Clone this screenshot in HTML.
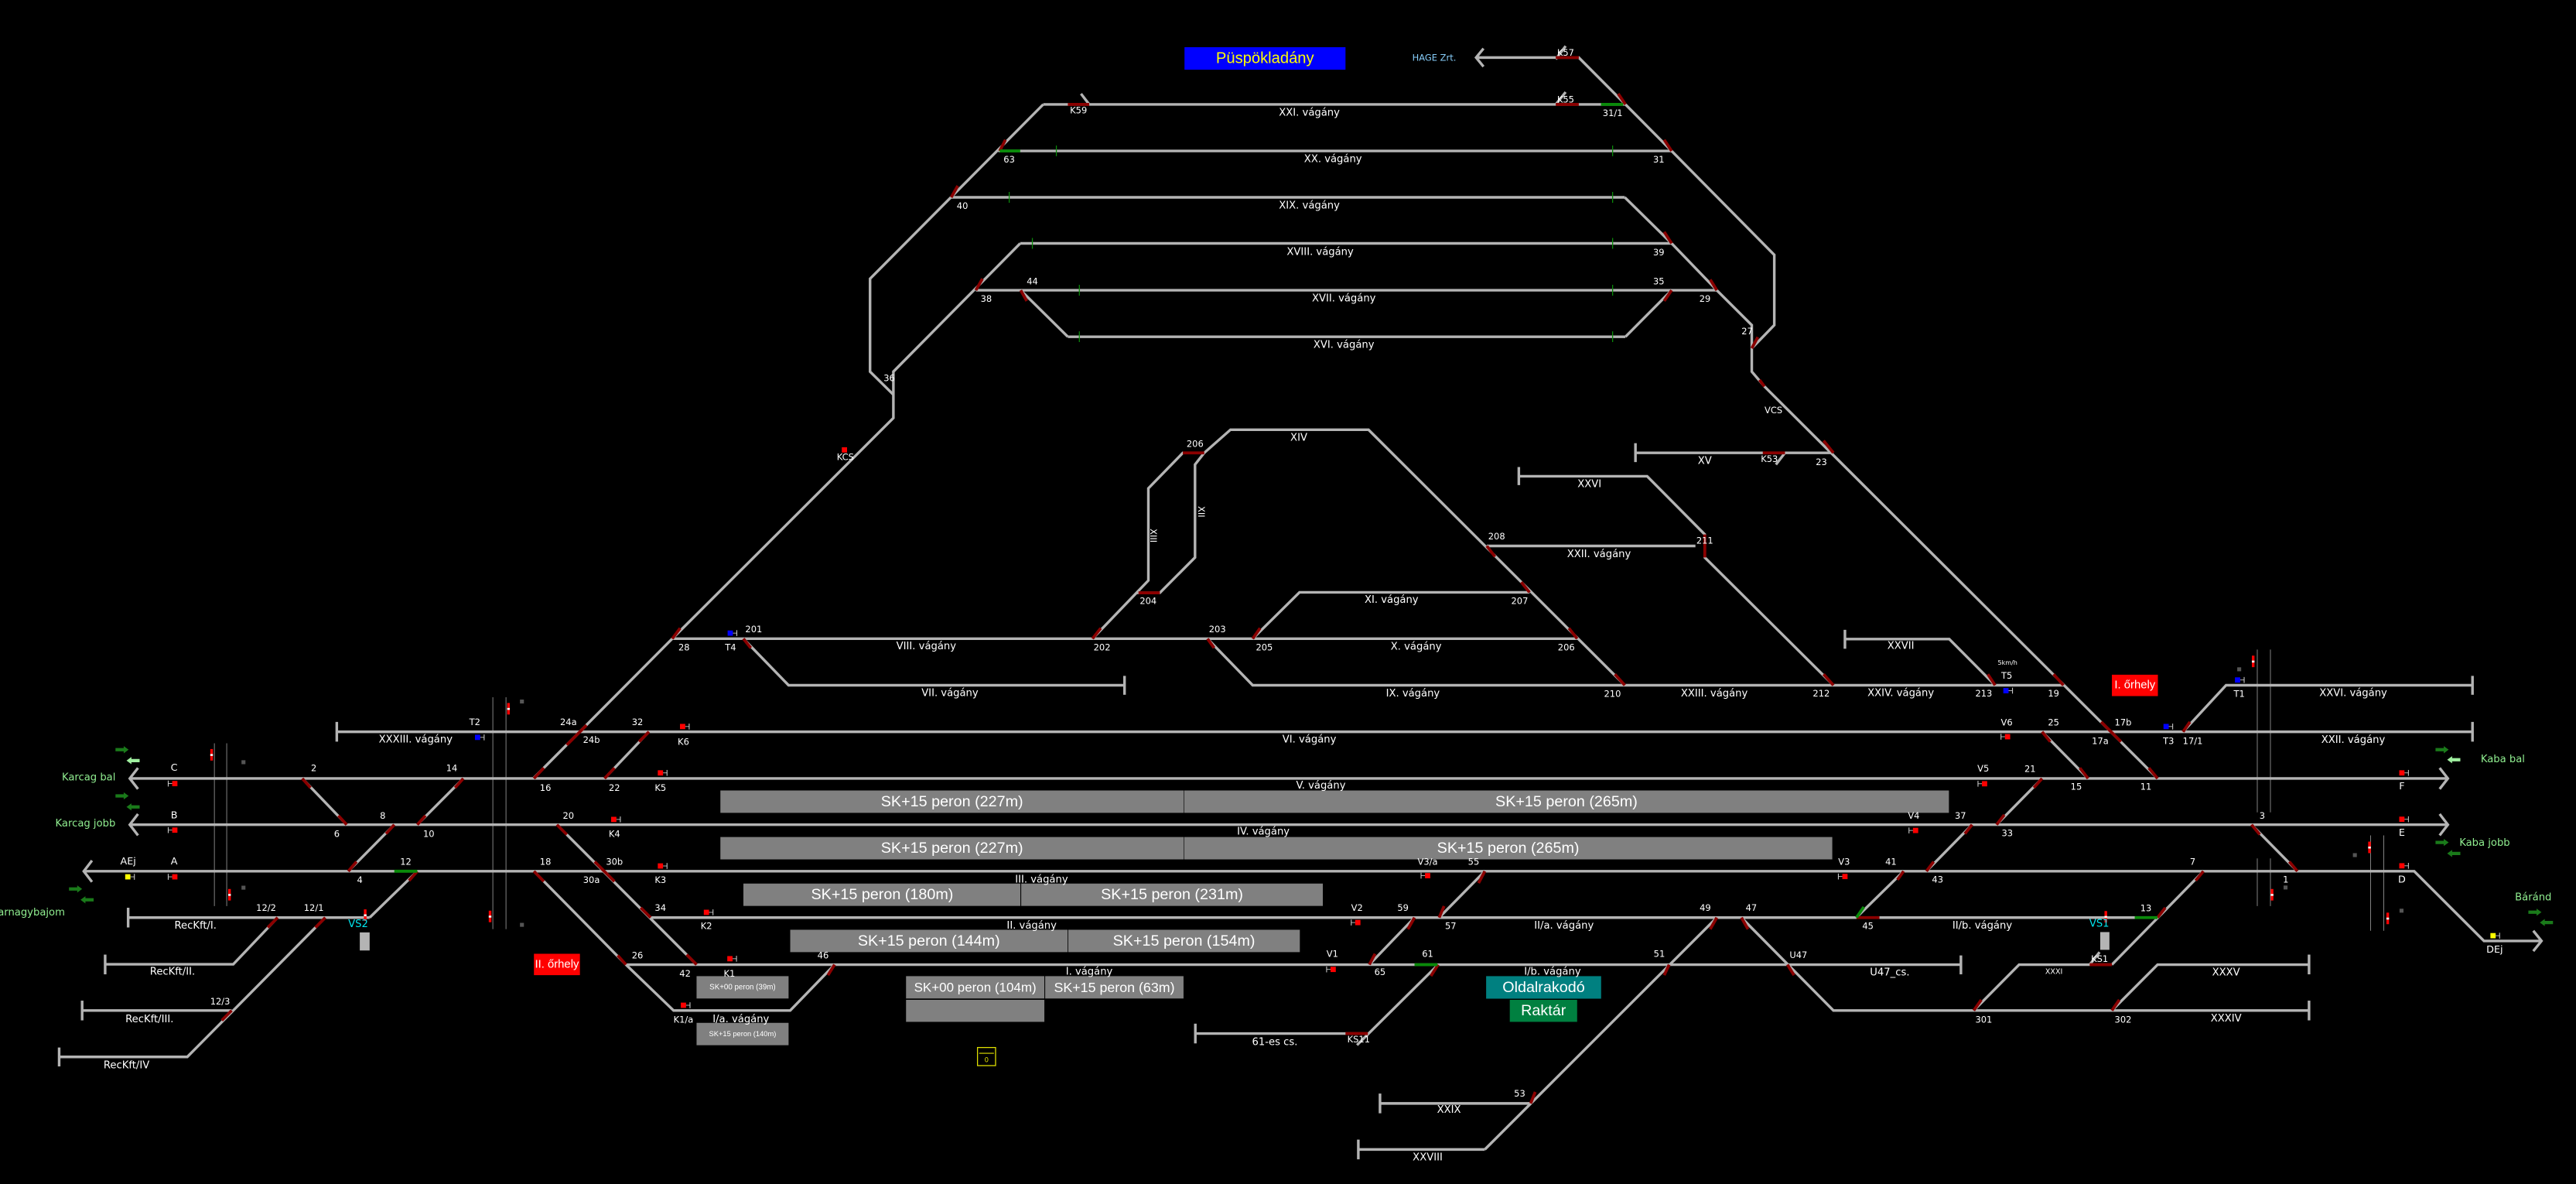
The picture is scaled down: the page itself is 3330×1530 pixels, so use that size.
<!DOCTYPE html>
<html><head><meta charset="utf-8"><style>
html,body{margin:0;padding:0;background:#000;width:3330px;height:1530px;overflow:hidden}
svg{display:block}
.t{fill:#b4b4b4;stroke:#b4b4b4;stroke-width:1.6;fill:none;stroke-linejoin:miter}
.r{stroke:#8b0000;stroke-width:1.8;fill:none}
.g{stroke:#0a8a0a;stroke-width:1.8;fill:none}
.tk{stroke:#0a8a0a;stroke-width:0.6}
.v{stroke:#888;stroke-width:0.45}
text{font-family:"DejaVu Sans","Liberation Sans",sans-serif;fill:#fff;text-anchor:middle;dominant-baseline:central}
.n{font-size:5.4px}
.nm{font-size:6.2px}
.p{font-family:"Liberation Sans",sans-serif;font-size:9.3px;fill:#fff}
.lg{fill:#90ee90;font-size:6.2px}
</style></head><body>
<svg width="3330" height="1530" viewBox="0 0 1568 720" preserveAspectRatio="none" xmlns="http://www.w3.org/2000/svg">
<defs>
<g id="sr"><rect x="-1.6" y="-1.6" width="3.2" height="3.2" fill="#ff0000"/><line x1="1.6" y1="0" x2="4" y2="0" stroke="#ccc" stroke-width="0.4"/><line x1="4" y1="-1.8" x2="4" y2="1.8" stroke="#ccc" stroke-width="0.5"/></g>
<g id="sl"><rect x="-1.6" y="-1.6" width="3.2" height="3.2" fill="#ff0000"/><line x1="-1.6" y1="0" x2="-4" y2="0" stroke="#ccc" stroke-width="0.4"/><line x1="-4" y1="-1.8" x2="-4" y2="1.8" stroke="#ccc" stroke-width="0.5"/></g>
<g id="sb"><rect x="-1.6" y="-1.6" width="3.2" height="3.2" fill="#0000ff"/><line x1="1.6" y1="0" x2="4" y2="0" stroke="#ccc" stroke-width="0.4"/><line x1="4" y1="-1.8" x2="4" y2="1.8" stroke="#ccc" stroke-width="0.5"/></g>
<g id="sy"><rect x="-1.6" y="-1.6" width="3.2" height="3.2" fill="#ffff00"/><line x1="1.6" y1="0" x2="4" y2="0" stroke="#ccc" stroke-width="0.4"/><line x1="4" y1="-1.8" x2="4" y2="1.8" stroke="#ccc" stroke-width="0.5"/></g>
<g id="rw"><rect x="-0.8" y="0" width="1.6" height="7" fill="#ff0000"/><rect x="-0.8" y="3" width="1.6" height="1.2" fill="#fff"/></g>
<g id="ar"><polygon points="-4,-1 1,-1 1,-2.2 4,0 1,2.2 1,1 -4,1" fill="#1a7a1a"/></g>
<g id="al"><polygon points="4,-1 -1,-1 -1,-2.2 -4,0 -1,2.2 -1,1 4,1" fill="#1a7a1a"/></g>
<g id="all"><polygon points="4,-1 -1,-1 -1,-2.2 -4,0 -1,2.2 -1,1 4,1" fill="#a0f0a0"/></g>
</defs>
<rect width="1568" height="720" fill="#000"/>

<!-- platforms -->
<g fill="#808080">
<rect x="438.5" y="480.7" width="282" height="13.6"/><rect x="720.8" y="480.7" width="465.5" height="13.6"/>
<rect x="438.5" y="509" width="282" height="13.6"/><rect x="720.8" y="509" width="394.5" height="13.6"/>
<rect x="452.5" y="537.3" width="168.6" height="13.6"/><rect x="621.6" y="537.3" width="183.6" height="13.6"/>
<rect x="481" y="565.4" width="168.8" height="13.6"/><rect x="650.2" y="565.4" width="141" height="13.6"/>
<rect x="424" y="593.6" width="56" height="13.6"/><rect x="424" y="622" width="56" height="13.6"/>
<rect x="551.5" y="593.6" width="84.2" height="13.6"/><rect x="551.5" y="608" width="84.2" height="13.4"/>
<rect x="636.2" y="593.6" width="84.2" height="13.6"/>
</g>
<rect x="904.6" y="593.6" width="70" height="13.7" fill="#008080"/>
<rect x="919" y="608" width="41" height="13.4" fill="#008040"/>
<rect x="595" y="637" width="11" height="11" fill="none" stroke="#e0e000" stroke-width="0.6"/><line x1="596" y1="640.5" x2="605" y2="640.5" stroke="#e0e000" stroke-width="0.5"/>
<text x="600.5" y="645" style="font-size:4px;fill:#e0e000">0</text>
<g class="p">
<text class="p" x="579.5" y="487.6">SK+15 peron (227m)</text><text class="p" x="953.5" y="487.6">SK+15 peron (265m)</text>
<text class="p" x="579.5" y="515.8">SK+15 peron (227m)</text><text class="p" x="918" y="515.8">SK+15 peron (265m)</text>
<text class="p" x="537" y="544.1">SK+15 peron (180m)</text><text class="p" x="713.4" y="544.1">SK+15 peron (231m)</text>
<text class="p" x="565.4" y="572.2">SK+15 peron (144m)</text><text class="p" x="720.7" y="572.2">SK+15 peron (154m)</text>
<text class="p" x="593.6" y="600.4" style="font-size:8px">SK+00 peron (104m)</text><text class="p" x="678.3" y="600.4" style="font-size:8.4px">SK+15 peron (63m)</text>
<text class="p" x="452" y="600.4" style="font-size:4.6px">SK+00 peron (39m)</text><text class="p" x="452" y="628.8" style="font-size:4.4px">SK+15 peron (140m)</text>
<text class="p" x="939.6" y="600.4">Oldalrakodó</text><text class="p" x="939.5" y="614.7">Raktár</text>
</g>

<!-- thin vertical lines -->
<g class="v">
<line x1="130.5" y1="452" x2="130.5" y2="551"/><line x1="138" y1="452" x2="138" y2="551"/>
<line x1="300" y1="424" x2="300" y2="565"/><line x1="308" y1="424" x2="308" y2="565"/>
<line x1="1374" y1="395" x2="1374" y2="494"/><line x1="1382" y1="395" x2="1382" y2="494"/>
<line x1="1374" y1="522" x2="1374" y2="551"/><line x1="1382" y1="522" x2="1382" y2="551"/>
<line x1="1443" y1="508" x2="1443" y2="566"/><line x1="1451" y1="508" x2="1451" y2="566"/>
</g>

<!-- title -->
<rect x="721" y="28.7" width="98" height="13.7" fill="#0000ff"/>
<text x="770" y="35.6" style="font-family:'Liberation Sans',sans-serif;font-size:9.5px;fill:#ffff00">Püspökladány</text>
<text x="873" y="35" style="font-size:5.4px;fill:#87cefa">HAGE Zrt.</text>

<!-- tracks -->
<g class="t">
<!-- HAGE -->
<polyline points="898.5,35 961,35 989.4,63.5 1017.5,91.8 1080,155 1080,197.7 1066.3,211.8"/>
<polyline points="903,29.5 898.5,35 903,40.5"/>
<line x1="947" y1="36" x2="953" y2="28"/>
<!-- top tracks -->
<line x1="635" y1="63.5" x2="989.4" y2="63.5"/>
<line x1="607.7" y1="91.8" x2="1017.5" y2="91.8"/>
<line x1="579" y1="120" x2="989" y2="120"/>
<line x1="621" y1="148" x2="1017.5" y2="148"/>
<line x1="594" y1="176.5" x2="1045" y2="176.5"/>
<line x1="650" y1="204.8" x2="989.4" y2="204.8"/>
<line x1="663" y1="63.5" x2="658" y2="57"/>
<line x1="947" y1="63.5" x2="953" y2="56"/>
<polyline points="635,63.5 529.6,169.5 529.6,226 543.8,240"/>
<polyline points="621,148 543.8,226 543.8,254.2 409.2,388.4 325,473"/>
<polyline points="989,120 1017.5,148 1045,176.5 1066.3,197.7 1066.3,226 1074,235 1313.3,473.4"/>
<line x1="621.3" y1="176.5" x2="650" y2="204.8"/>
<line x1="1017.5" y1="176.5" x2="989.4" y2="204.8"/>
<!-- middle -->
<polyline points="665,388.4 699,353 699,297 720,275.4 733,275.4 749,261.3 833,261.3 989,416.7"/>
<polyline points="733,275.4 727.4,282.5 727.4,339 706,360.5 692,360.5"/>
<line x1="409.2" y1="388.4" x2="960" y2="388.4"/>
<polyline points="452.5,388.4 480,416.7 684.5,416.7"/>
<line x1="684.5" y1="411" x2="684.5" y2="422.5"/>
<polyline points="735,388.4 762.5,416.7 1256,416.7"/>
<polyline points="762.5,388.4 791,360.2 931,360.2"/>
<line x1="905" y1="332" x2="1032" y2="332"/>
<polyline points="924.5,289.6 1002.6,289.6 1037.7,325 1037.7,339 1116,416.7"/>
<line x1="924.5" y1="284" x2="924.5" y2="295"/>
<line x1="995.5" y1="275.4" x2="1116" y2="275.4"/>
<line x1="995.5" y1="269.5" x2="995.5" y2="281"/>
<line x1="1086.5" y1="275.4" x2="1081" y2="282.5"/>
<polyline points="1123,388.6 1186.5,388.6 1214.4,416.7"/>
<line x1="1123" y1="383" x2="1123" y2="394.5"/>
<!-- XXXIII / VI -->
<line x1="205" y1="445" x2="1505" y2="445"/>
<line x1="205" y1="439" x2="205" y2="451"/>
<line x1="1505" y1="439" x2="1505" y2="451"/>
<polyline points="1328.8,445 1355,416.7 1505,416.7"/>
<line x1="1505" y1="411" x2="1505" y2="422.5"/>
<!-- main lines -->
<line x1="79" y1="473.4" x2="1490" y2="473.4"/>
<polyline points="84,467 79,473.4 84,479.8"/>
<polyline points="1485,467 1490,473.4 1485,479.8"/>
<line x1="79" y1="501.5" x2="1490" y2="501.5"/>
<polyline points="84,495 79,501.5 84,508"/>
<polyline points="1485,495 1490,501.5 1485,508"/>
<polyline points="51,529.8 1469.5,529.8 1512,572.2 1547,572.2"/>
<polyline points="56,523.3 51,529.8 56,536.3"/>
<polyline points="1542,566 1547,572.2 1542,578.4"/>
<line x1="78" y1="558" x2="225" y2="558"/>
<line x1="78" y1="552" x2="78" y2="564"/>
<line x1="396" y1="558" x2="1313.3" y2="558"/>
<line x1="381" y1="586.6" x2="1193.6" y2="586.6"/>
<line x1="1193.6" y1="581" x2="1193.6" y2="592.5"/>
<!-- left crossovers -->
<line x1="184" y1="473.4" x2="211" y2="501.5"/>
<line x1="282" y1="473.4" x2="254" y2="501.5"/>
<line x1="240" y1="501.5" x2="212" y2="529.8"/>
<polyline points="254,529.8 225,558"/>
<polyline points="64,586.4 142,586.4 169,558"/>
<line x1="64" y1="580.5" x2="64" y2="592.5"/>
<polyline points="36,642.7 114,642.7 198,558"/>
<line x1="36" y1="637" x2="36" y2="648.5"/>
<line x1="50" y1="614.5" x2="141" y2="614.5"/>
<line x1="50" y1="608.5" x2="50" y2="620.5"/>
<line x1="368" y1="473.4" x2="395" y2="445"/>
<polyline points="339,501.5 424,586.6"/>
<polyline points="325,529.8 381,586.6 410,614.5 481,614.5 508,586.6"/>
<!-- middle crossovers -->
<polyline points="833.5,586.6 861,558"/>
<polyline points="876,558 903.8,529.8"/>
<polyline points="727.6,628.5 832.6,628.5"/>
<line x1="727.6" y1="622.5" x2="727.6" y2="634.5"/>
<polyline points="875.4,586.6 826,635.5"/>
<polyline points="1045,558 903.8,699"/>
<line x1="840" y1="671" x2="931.7" y2="671"/>
<line x1="840" y1="665" x2="840" y2="677"/>
<line x1="826.8" y1="699" x2="903.8" y2="699"/>
<line x1="826.8" y1="693" x2="826.8" y2="705"/>
<polyline points="1060,558 1116,614.5 1405.5,614.5"/>
<line x1="1405.5" y1="608.5" x2="1405.5" y2="620.5"/>
<!-- right crossovers -->
<line x1="1243" y1="445" x2="1271" y2="473.4"/>
<line x1="1243" y1="473.4" x2="1215.3" y2="501.5"/>
<line x1="1200.4" y1="501.5" x2="1172.6" y2="529.8"/>
<line x1="1158.7" y1="529.8" x2="1129.9" y2="558"/>
<line x1="1370.5" y1="501.5" x2="1398.4" y2="529.8"/>
<polyline points="1341.2,529.8 1285.5,586.6"/>
<polyline points="1201.4,614.5 1229,586.6 1285.5,586.6"/>
<polyline points="1285.5,614.5 1313.3,586.6 1405.5,586.6"/>
<line x1="1405.5" y1="580.5" x2="1405.5" y2="592.5"/>
<line x1="1272" y1="586.6" x2="1278" y2="579"/>
</g>

<!-- red switch segments -->
<g class="r">
<line x1="947" y1="35" x2="961" y2="35"/>
<line x1="650" y1="63.5" x2="663" y2="63.5"/><line x1="947" y1="63.5" x2="961" y2="63.5"/>
<line x1="989.4" y1="63.5" x2="985" y2="57"/><line x1="1017.5" y1="91.8" x2="1013" y2="85"/>
<line x1="608.5" y1="91.8" x2="612" y2="85"/><line x1="579" y1="120" x2="583" y2="113"/>
<line x1="594" y1="176.5" x2="598" y2="169.5"/><line x1="621.3" y1="176.5" x2="625" y2="183"/>
<line x1="1017.5" y1="148" x2="1013" y2="141"/><line x1="1045" y1="176.5" x2="1041" y2="170"/>
<line x1="1017.5" y1="176.5" x2="1013" y2="183"/><line x1="1066.3" y1="211.8" x2="1070" y2="205"/>
<line x1="1074" y1="235" x2="1071" y2="231"/>
<line x1="720" y1="275.4" x2="733" y2="275.4"/><line x1="693" y1="360.5" x2="706" y2="360.5"/>
<line x1="665" y1="388.4" x2="670" y2="382"/><line x1="735" y1="388.4" x2="739" y2="394"/>
<line x1="762.5" y1="388.4" x2="767" y2="382"/><line x1="960" y1="388.4" x2="955" y2="382"/>
<line x1="931" y1="360.2" x2="926" y2="354"/><line x1="905" y1="332" x2="910" y2="338.5"/>
<line x1="989" y1="416.7" x2="983" y2="410"/><line x1="1116" y1="416.7" x2="1110" y2="410"/>
<line x1="1214.4" y1="416.7" x2="1210" y2="410"/><line x1="1256" y1="416.7" x2="1250" y2="410"/>
<line x1="1037.7" y1="325" x2="1037.7" y2="339"/>
<line x1="1116" y1="275.4" x2="1110" y2="268"/><line x1="1073" y1="275.4" x2="1086.5" y2="275.4"/>
<line x1="409.2" y1="388.4" x2="414" y2="382"/><line x1="452.5" y1="388.4" x2="457" y2="394"/>
<line x1="184" y1="473.4" x2="189" y2="479"/><line x1="211" y1="501.5" x2="206" y2="496"/>
<line x1="282" y1="473.4" x2="277" y2="479"/><line x1="254" y1="501.5" x2="259" y2="496"/>
<line x1="240" y1="501.5" x2="235" y2="507"/><line x1="212" y1="529.8" x2="217" y2="524"/>
<line x1="254" y1="529.8" x2="249" y2="535.5"/>
<line x1="169" y1="558" x2="163" y2="564"/><line x1="198" y1="558" x2="192" y2="564"/>
<line x1="141" y1="614.5" x2="135" y2="620.5"/>
<line x1="325" y1="473.4" x2="331" y2="467"/><line x1="345" y1="453" x2="357" y2="441"/>
<line x1="368" y1="473.4" x2="374" y2="467"/><line x1="395" y1="445" x2="389" y2="451"/>
<line x1="339" y1="501.5" x2="345" y2="507.5"/><line x1="362" y1="524" x2="374" y2="536"/>
<line x1="396" y1="558" x2="390" y2="552"/><line x1="424" y1="586.6" x2="418" y2="580.5"/>
<line x1="325" y1="529.8" x2="331" y2="536"/><line x1="381" y1="586.6" x2="376" y2="581"/>
<line x1="508" y1="586.6" x2="504" y2="593"/>
<line x1="861" y1="558" x2="857" y2="565"/><line x1="833.5" y1="586.6" x2="837" y2="580"/>
<line x1="876" y1="558" x2="879" y2="551"/><line x1="903.8" y1="529.8" x2="900" y2="537"/>
<line x1="875.4" y1="586.6" x2="871" y2="593.5"/><line x1="819" y1="628.5" x2="832.6" y2="628.5"/>
<line x1="1045" y1="558" x2="1041" y2="565"/><line x1="1016" y1="586.6" x2="1013" y2="593"/>
<line x1="931.7" y1="671" x2="934.5" y2="664"/>
<line x1="1060" y1="558" x2="1064" y2="565"/><line x1="1088" y1="586.6" x2="1092" y2="593"/>
<line x1="1243" y1="445" x2="1248" y2="451"/><line x1="1271" y1="473.4" x2="1266" y2="467"/>
<line x1="1279" y1="439" x2="1291" y2="451"/><line x1="1313.3" y1="473.4" x2="1308" y2="467"/>
<line x1="1328.8" y1="445" x2="1333" y2="439"/>
<line x1="1243" y1="473.4" x2="1238" y2="479"/><line x1="1215.3" y1="501.5" x2="1220" y2="495.5"/>
<line x1="1200.4" y1="501.5" x2="1196" y2="507"/><line x1="1172.6" y1="529.8" x2="1177" y2="524"/>
<line x1="1158.7" y1="529.8" x2="1155" y2="535"/>
<line x1="1130" y1="558" x2="1144" y2="558"/>
<line x1="1370.5" y1="501.5" x2="1375.5" y2="507.5"/><line x1="1398.4" y1="529.8" x2="1393.5" y2="524"/>
<line x1="1341.2" y1="529.8" x2="1336.5" y2="535.5"/>
<line x1="1313.3" y1="558" x2="1318" y2="552"/>
<line x1="1272" y1="586.6" x2="1285.5" y2="586.6"/>
<line x1="1201.4" y1="614.5" x2="1206" y2="608"/><line x1="1285.5" y1="614.5" x2="1290" y2="608"/>
</g>
<g class="g">
<line x1="608.5" y1="91.8" x2="621" y2="91.8"/><line x1="974.5" y1="63.5" x2="988" y2="63.5"/>
<line x1="240" y1="529.8" x2="254" y2="529.8"/><line x1="861" y1="586.6" x2="875" y2="586.6"/>
<line x1="1299.4" y1="558" x2="1313.3" y2="558"/><line x1="1130" y1="558" x2="1134.5" y2="551.5"/>
</g>
<g class="tk">
<line x1="643" y1="88.5" x2="643" y2="95"/><line x1="981.6" y1="88.5" x2="981.6" y2="95"/>
<line x1="614.3" y1="116.7" x2="614.3" y2="123.3"/><line x1="981.6" y1="116.7" x2="981.6" y2="123.3"/>
<line x1="628.4" y1="144.7" x2="628.4" y2="151.3"/><line x1="981.6" y1="144.7" x2="981.6" y2="151.3"/>
<line x1="657" y1="173.2" x2="657" y2="179.8"/><line x1="981.6" y1="173.2" x2="981.6" y2="179.8"/>
<line x1="657" y1="201.5" x2="657" y2="208"/><line x1="981.6" y1="201.5" x2="981.6" y2="208"/>
</g>

<!-- signals -->
<use href="#sl" x="106.4" y="476.5"/><use href="#sl" x="106.4" y="504.8"/><use href="#sl" x="106.4" y="533.2"/>
<use href="#sy" x="79.8" y="533.2" transform="translate(-2,0)"/>
<use href="#sr" x="415.5" y="441.8"/><use href="#sr" x="402" y="470"/><use href="#sr" x="373.6" y="498.3"/>
<use href="#sr" x="402" y="526.6"/><use href="#sr" x="430" y="554.8"/><use href="#sr" x="444.3" y="583"/><use href="#sr" x="416" y="611.3"/>
<use href="#sb" x="290.7" y="448.4" transform="translate(0,0)"/>
<use href="#sb" x="444.5" y="385"/>
<use href="#sl" x="869" y="532.5"/><use href="#sl" x="826.5" y="561"/><use href="#sl" x="811.5" y="589.5"/>
<use href="#sl" x="1222" y="448"/><use href="#sl" x="1208" y="476.6"/><use href="#sl" x="1166" y="505"/><use href="#sl" x="1123" y="533"/>
<use href="#sb" x="1221" y="420"/><use href="#sb" x="1318.5" y="441.8"/><use href="#sb" x="1362" y="413.5"/>
<use href="#sr" x="1462" y="470"/><use href="#sr" x="1462" y="498.2"/><use href="#sr" x="1462" y="526.5"/>
<use href="#sy" x="1517.5" y="569"/>
<rect x="512.4" y="272" width="3.2" height="3.2" fill="#f00"/>
<use href="#rw" x="128.8" y="455.5"/><use href="#rw" x="139.7" y="540.6"/><use href="#rw" x="309.5" y="427.5"/>
<use href="#rw" x="222.3" y="553"/><use href="#rw" x="298.3" y="553.8"/><use href="#rw" x="1371.5" y="398.7"/>
<use href="#rw" x="1442.3" y="511.8"/><use href="#rw" x="1383" y="540.6"/><use href="#rw" x="1453.4" y="555"/><use href="#rw" x="1281.8" y="554"/>
<g fill="#555">
<rect x="147" y="462.3" width="2.4" height="2.4"/><rect x="147" y="538.6" width="2.4" height="2.4"/>
<rect x="316.5" y="425.4" width="2.4" height="2.4"/><rect x="316.5" y="561.2" width="2.4" height="2.4"/>
<rect x="1361.8" y="405.8" width="2.4" height="2.4"/><rect x="1432.2" y="518.8" width="2.4" height="2.4"/>
<rect x="1390" y="538.5" width="2.4" height="2.4"/><rect x="1460.6" y="552.6" width="2.4" height="2.4"/>
</g>
<rect x="219" y="567" width="6" height="11" fill="#b4b4b4"/>
<rect x="1278.4" y="566.8" width="5.6" height="10.8" fill="#b4b4b4"/>
<use href="#ar" x="74.3" y="455.9"/><use href="#all" x="81" y="462.5"/>
<use href="#ar" x="74.3" y="484"/><use href="#al" x="81" y="490.7"/>
<use href="#ar" x="46" y="540.6"/><use href="#al" x="53" y="547.2"/>
<use href="#ar" x="1486.5" y="455.9"/><use href="#all" x="1493.6" y="462"/>
<use href="#ar" x="1486.5" y="512.3"/><use href="#al" x="1493.6" y="519"/>
<use href="#ar" x="1543" y="554.7"/><use href="#al" x="1550" y="561"/>

<!-- red boxes -->
<rect x="325" y="580" width="28" height="13" fill="#ff0000"/>
<text x="339" y="586.6" style="font-family:'Liberation Sans',sans-serif;font-size:7px">II. őrhely</text>
<rect x="1285.5" y="410.3" width="28" height="13" fill="#ff0000"/>
<text x="1299.5" y="416.8" style="font-family:'Liberation Sans',sans-serif;font-size:7px">I. őrhely</text>

<!-- labels -->
<g class="n">
<text x="953" y="32">K57</text><text x="656.5" y="67">K59</text><text x="953" y="60.4">K55</text><text x="981.6" y="68.7">31/1</text>
<text x="614.3" y="97">63</text><text x="1009.7" y="97">31</text><text x="585.8" y="125.2">40</text><text x="1009.7" y="153.5">39</text>
<text x="628.4" y="171">44</text><text x="1009.7" y="171">35</text><text x="600.3" y="181.7">38</text><text x="1037.8" y="181.7">29</text>
<text x="1063.5" y="201.3">27</text><text x="541.3" y="229.9">36</text><text x="514.6" y="277.8">KCS</text>
<text x="416.4" y="393.6">28</text><text x="444.7" y="393.6">T4</text><text x="458.8" y="382.6">201</text>
<text x="670.8" y="393.7">202</text><text x="741" y="382.7">203</text><text x="769.6" y="393.7">205</text><text x="953.4" y="393.7">206</text>
<text x="925" y="365.4">207</text><text x="911" y="326.1">208</text><text x="1037.7" y="328.8">211</text>
<text x="727.4" y="269.9">206</text><text x="698.9" y="365.4">204</text>
<text x="1079.5" y="249.5">VCS</text><text x="1077" y="279">K53</text><text x="1108.7" y="281">23</text>
<text x="981.5" y="421.9">210</text><text x="1108.6" y="421.6">212</text><text x="1207.5" y="421.6">213</text><text x="1250" y="421.6">19</text>
<text x="1221.5" y="410.8">T5</text><text x="1222" y="403" style="font-size:3.8px">5km/h</text>
<text x="1221.5" y="439.3">V6</text><text x="1250" y="439.3">25</text><text x="1292.3" y="439.3">17b</text>
<text x="1278.4" y="450.5">17a</text><text x="1320" y="450.5">T3</text><text x="1334.7" y="450.5">17/1</text><text x="1363" y="422">T1</text>
<text x="1207.2" y="467.2">V5</text><text x="1235.7" y="467.6">21</text><text x="1263.8" y="478.4">15</text><text x="1306.2" y="478.4">11</text>
<text x="1164.9" y="495.9">V4</text><text x="1193.3" y="495.9">37</text><text x="1221.8" y="506.7">33</text><text x="1377" y="495.9">3</text>
<text x="1122.5" y="524">V3</text><text x="1151" y="524">41</text><text x="1179.4" y="534.8">43</text><text x="1334.7" y="524">7</text><text x="1391.3" y="534.8">1</text>
<text x="1137" y="563.1">45</text><text x="1306.2" y="552.3">13</text><text x="1094.7" y="580.6">U47</text><text x="1278" y="583">KS1</text>
<text x="1207.5" y="620">301</text><text x="1292.3" y="620">302</text>
<text x="1462" y="478.4" style="font-size:6px">F</text><text x="1462" y="506.7" style="font-size:6px">E</text><text x="1462" y="535" style="font-size:6px">D</text>
<text x="1518.5" y="577.6" style="font-size:6px">DEj</text>
<text x="869" y="524">V3/a</text><text x="897" y="524">55</text><text x="826" y="552">V2</text><text x="854" y="552">59</text><text x="883" y="563">57</text>
<text x="811" y="580">V1</text><text x="869" y="580">61</text><text x="840" y="591">65</text><text x="1038" y="552">49</text><text x="1066" y="552">47</text>
<text x="1010" y="580">51</text><text x="925" y="665">53</text><text x="827" y="632">KS11</text>
<text x="106" y="467" style="font-size:6px">C</text><text x="106" y="496" style="font-size:6px">B</text><text x="106" y="524" style="font-size:6px">A</text><text x="78" y="524" style="font-size:6px">AEj</text>
<text x="191" y="467">2</text><text x="275" y="467">14</text><text x="205" y="507">6</text><text x="233" y="496">8</text><text x="261" y="507">10</text>
<text x="219" y="535">4</text><text x="247" y="524">12</text><text x="332" y="479">16</text><text x="374" y="479">22</text><text x="402" y="479">K5</text>
<text x="346" y="496">20</text><text x="374" y="507">K4</text><text x="332" y="524">18</text><text x="374" y="524">30b</text><text x="360" y="535">30a</text>
<text x="402" y="535">K3</text><text x="402" y="552">34</text><text x="430" y="563">K2</text><text x="388" y="581">26</text><text x="417" y="592">42</text>
<text x="444" y="592">K1</text><text x="501" y="581">46</text><text x="416" y="620">K1/a</text>
<text x="289" y="439">T2</text><text x="346" y="439">24a</text><text x="388" y="439">32</text><text x="360" y="450">24b</text><text x="416" y="451">K6</text>
<text x="162" y="552">12/2</text><text x="191" y="552">12/1</text><text x="134" y="609">12/3</text>
</g>
<g class="nm">
<text x="797" y="68.7">XXI. vágány</text><text x="811.4" y="97">XX. vágány</text><text x="797" y="125.2">XIX. vágány</text>
<text x="803.6" y="153.5">XVIII. vágány</text><text x="818" y="181.7">XVII. vágány</text><text x="818" y="210">XVI. vágány</text>
<text x="790.6" y="266.3">XIV</text><text x="967.5" y="294.6">XXVI</text><text x="1037.7" y="280.5">XV</text>
<text x="973.3" y="337.1">XXII. vágány</text><text x="847" y="365">XI. vágány</text>
<text x="563.8" y="393.1">VIII. vágány</text><text x="862" y="393.4">X. vágány</text>
<text x="578.2" y="421.6">VII. vágány</text><text x="860" y="421.9">IX. vágány</text><text x="1043.5" y="421.9">XXIII. vágány</text>
<text x="1157" y="421.6">XXIV. vágány</text><text x="1157" y="393">XXVII</text>
<text x="253" y="450">XXXIII. vágány</text><text x="797" y="450">VI. vágány</text>
<text x="1432.4" y="421.6">XXVI. vágány</text><text x="1432.4" y="450.1">XXII. vágány</text>
<text x="804" y="478">V. vágány</text><text x="769" y="506">IV. vágány</text><text x="634" y="535">III. vágány</text>
<text x="628" y="563">II. vágány</text><text x="663" y="591">I. vágány</text><text x="451" y="620">I/a. vágány</text>
<text x="945" y="591">I/b. vágány</text><text x="952" y="563">II/a. vágány</text><text x="1206.6" y="563.1">II/b. vágány</text>
<text x="1150.3" y="591.5">U47_cs.</text><text x="1250.2" y="591.1" style="font-size:4.5px">XXXI</text>
<text x="1355" y="591.5">XXXV</text><text x="1355" y="619.6">XXXIV</text>
<text x="776" y="634">61-es cs.</text><text x="882" y="675">XXIX</text><text x="869" y="704">XXVIII</text>
<text x="119" y="563">RecKft/I.</text><text x="105" y="591">RecKft/II.</text><text x="91" y="620">RecKft/III.</text><text x="77" y="648">RecKft/IV</text>
<text x="218" y="562" style="fill:#00e5ee">VS2</text><text x="1277.8" y="561.9" style="fill:#00e5ee">VS1</text>
<text x="702" y="325.7" transform="rotate(90 702 325.7)" style="font-size:5.4px">XIII</text>
<text x="731.3" y="311.2" transform="rotate(90 731.3 311.2)" style="font-size:5.4px">XII</text>
</g>
<text class="lg" x="54" y="473">Karcag bal</text><text class="lg" x="52" y="501">Karcag jobb</text>
<text class="lg" x="39.5" y="555" style="text-anchor:end">Biharnagybajom</text>
<text class="lg" x="1510" y="461.8" style="text-anchor:start">Kaba bal</text>
<text class="lg" x="1497" y="512.7" style="text-anchor:start">Kaba jobb</text>
<text class="lg" x="1542" y="546">Báránd</text>
</svg>
</body></html>
